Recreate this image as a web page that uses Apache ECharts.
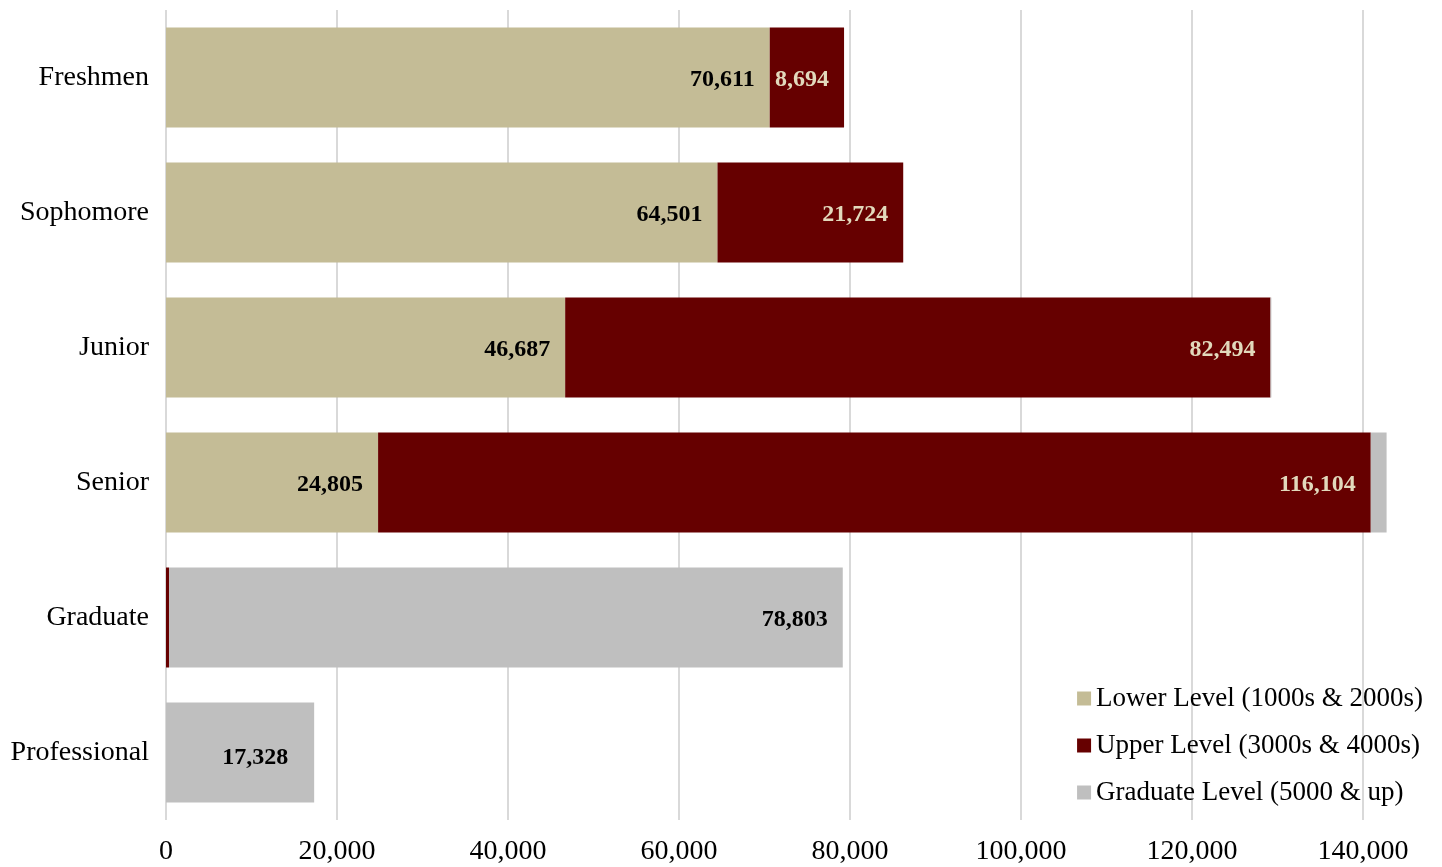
<!DOCTYPE html>
<html><head><meta charset="utf-8">
<script src="https://cdn.jsdelivr.net/npm/echarts@6/dist/echarts.min.js"></script>
<style>html,body{margin:0;padding:0;background:#fff}#c{width:1442px;height:867px}</style>
</head><body><div id="c"></div>
<script>
const categories = ['Freshmen','Sophomore','Junior','Senior','Graduate','Professional'];
const lowerLevel = [70611, 64501, 46687, 24805, 0, 0];
const upperLevel = [8694, 21724, 82494, 116104, 350, 0];
const graduateLevel = [0, 0, 100, 1850, 78803, 17328];
const seriesNames = ['Lower Level (1000s & 2000s)','Upper Level (3000s & 4000s)','Graduate Level (5000 & up)'];
const labelMin = 5000;

const FONT = '"Liberation Serif", "DejaVu Serif", serif';
const fmt = v => v.toLocaleString('en-US');

function mk(vals, special) {
  return vals.map((v, i) => {
    const item = { value: v };
    if (v < labelMin) item.label = { show: false };
    if (special && special[i]) item.label = Object.assign({}, special[i]);
    return item;
  });
}

const chart = echarts.init(document.getElementById('c'));
const baseLabel = (color) => ({
  show: true, position: 'insideRight', distance: 15, offset: [0, 2],
  color: color, fontFamily: FONT, fontWeight: 'bold', fontSize: 24,
  formatter: p => fmt(p.value)
});
chart.setOption({
  animation: false,
  grid: { left: 166, right: 79, top: 10, bottom: 47, containLabel: false },
  legend: {
    orient: 'vertical', right: 14, top: 680,
    itemWidth: 14, itemHeight: 14, itemGap: 20,
    icon: 'rect',
    textStyle: { fontFamily: FONT, fontSize: 27, color: '#000', padding: [0, 0, 0, 0] },
    data: seriesNames
  },
  xAxis: {
    type: 'value', min: 0, max: 140000, interval: 20000,
    axisLine: { show: false }, axisTick: { show: false },
    splitLine: { show: true, lineStyle: { color: '#d9d9d9', width: 2 } },
    axisLabel: { fontFamily: FONT, fontSize: 28, color: '#000', margin: 18, formatter: v => fmt(v) }
  },
  yAxis: {
    type: 'category', data: categories, inverse: true,
    axisLine: { show: false }, axisTick: { show: false },
    axisLabel: { fontFamily: FONT, fontSize: 28, color: '#000', margin: 17, padding: [3, 0, 0, 0] }
  },
  series: [
    { name: seriesNames[0], type: 'bar', stack: 't', barWidth: 100, clip: false,
      itemStyle: { color: '#C4BC96' }, label: baseLabel('#000'), data: mk(lowerLevel) },
    { name: seriesNames[1], type: 'bar', stack: 't', barWidth: 100, clip: false,
      itemStyle: { color: '#660000' }, label: baseLabel('#E2D9BC'), data: mk(upperLevel) },
    { name: seriesNames[2], type: 'bar', stack: 't', barWidth: 100, clip: false,
      itemStyle: { color: '#BFBFBF' }, label: baseLabel('#000'),
      data: mk(graduateLevel, {5: { show: true, distance: 26, offset: [0, 5] }}) }
  ]
});
</script></body></html>
